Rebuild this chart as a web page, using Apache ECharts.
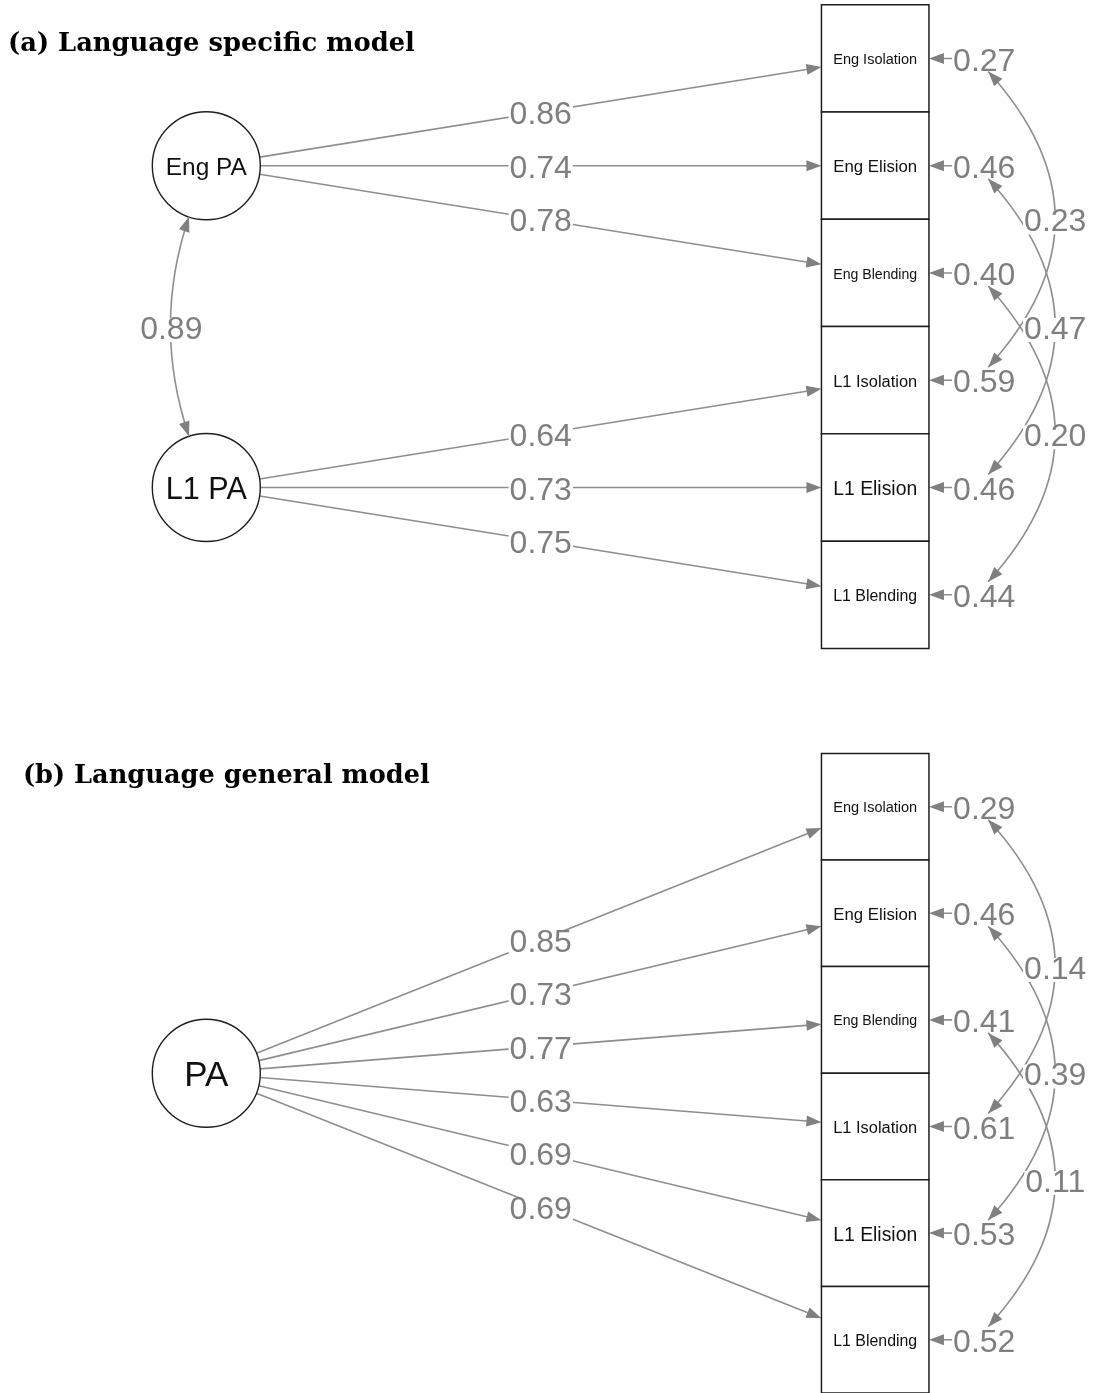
<!DOCTYPE html>
<html>
<head>
<meta charset="utf-8">
<script src="https://cdn.jsdelivr.net/npm/echarts@6/dist/echarts.min.js"></script>
<style>
  html, body { margin: 0; padding: 0; background: #fff; }
  #chart { width: 1094px; height: 1393px; }
</style>
</head>
<body>
<div id="chart"></div>
<script>
// Observed indicators, shared by both measurement models
const indicators = ['Eng Isolation', 'Eng Elision', 'Eng Blending', 'L1 Isolation', 'L1 Elision', 'L1 Blending'];
// Residual covariances link the same task across the two languages
const residPairs = [[0, 3], [1, 4], [2, 5]];

// (a) Language specific model: two correlated factors
const factorsA = ['Eng PA', 'L1 PA'];
const factorOfA = [0, 0, 0, 1, 1, 1];
const loadingsA = [0.86, 0.74, 0.78, 0.64, 0.73, 0.75];
const residualsA = [0.27, 0.46, 0.40, 0.59, 0.46, 0.44];
const factorCorA = [[0, 1, 0.89]];
const residCovA = [0.23, 0.47, 0.20];

// (b) Language general model: one factor
const factorsB = ['PA'];
const factorOfB = [0, 0, 0, 0, 0, 0];
const loadingsB = [0.85, 0.73, 0.77, 0.63, 0.69, 0.69];
const residualsB = [0.29, 0.46, 0.41, 0.61, 0.53, 0.52];
const factorCorB = [];
const residCovB = [0.14, 0.39, 0.11];

const titles = ['(a) Language specific model', '(b) Language general model'];

// ---- layout (axis units: factor column x=0, indicator column x=1, rows = indicator index)
const FACTOR_X = 0, IND_X = 1, RESID_X = 1.163;
const BOX_W = 107.5, CIRCLE_R = 54;
const RCOV_BULGE = 71, FCOV_BULGE = -35;
const HEAD_L = 15, HEAD_W = 5.5;
const LINE = '#8e8e8e', ARROW = '#808080', LABEL = '#7f7f7f', INK = '#1e1e1e';
const SANS = '"Liberation Sans", Arial, sans-serif';
const SERIF = '"DejaVu Serif", serif';
const EDGE_FS = 32;
// canvas 'middle' sits a little above the visual centre of digits/capitals
const dropFor = fs => 0.09 * fs + 0.4;

const measureCtx = document.createElement('canvas').getContext('2d');
function fitFont(text, family, weight, targetW, maxPx) {
  measureCtx.font = weight + ' 100px ' + family;
  const w = measureCtx.measureText(text).width;
  return Math.min(maxPx, 100 * targetW / w);
}

const unit = (a, b) => {
  const dx = b[0] - a[0], dy = b[1] - a[1], l = Math.hypot(dx, dy);
  return [dx / l, dy / l];
};
function arrowHead(tip, dir, z2) {
  const bx = tip[0] - dir[0] * HEAD_L, by = tip[1] - dir[1] * HEAD_L;
  const nx = -dir[1] * HEAD_W, ny = dir[0] * HEAD_W;
  return { type: 'polygon', z2, shape: { points: [tip, [bx + nx, by + ny], [bx - nx, by - ny]] },
           style: { fill: ARROW } };
}
function valueLabel(v, pt, z2) {
  return { type: 'text', z2, style: {
    text: v.toFixed(2), x: pt[0], y: pt[1] + dropFor(EDGE_FS), align: 'center', verticalAlign: 'middle',
    fontSize: EDGE_FS, fontFamily: SANS, fill: LABEL, backgroundColor: '#fff',
    padding: [0, 1], lineHeight: 24 } };
}
function nodeText(name, c, fs) {
  return { type: 'text', z2: 11, style: { text: name, x: c[0], y: c[1] + dropFor(fs), align: 'center',
    verticalAlign: 'middle', fontSize: fs, fontFamily: SANS, fill: '#111' } };
}
function seg(a, b, z2) {
  return { type: 'line', z2, shape: { x1: a[0], y1: a[1], x2: b[0], y2: b[1] },
           style: { stroke: LINE, lineWidth: 1.6 } };
}

function panelItems(factors, factorOf, loadings, residuals, factorCor, residCov) {
  const items = [];
  const factorRow = factors.map((_, k) => {
    const rows = factorOf.map((f, i) => (f === k ? i : -1)).filter(i => i >= 0);
    return rows.reduce((s, v) => s + v, 0) / rows.length;
  });
  indicators.forEach((name, i) => items.push({ kind: 'box', name, row: i, x: IND_X, y: i }));
  factors.forEach((name, k) => items.push({ kind: 'factor', name, x: FACTOR_X, y: factorRow[k] }));
  loadings.forEach((v, i) => {
    const fr = factorRow[factorOf[i]];
    items.push({ kind: 'load', value: v, fRow: fr, row: i, x: (FACTOR_X + IND_X) / 2, y: (fr + i) / 2 });
  });
  residuals.forEach((v, i) => items.push({ kind: 'resid', value: v, row: i, x: RESID_X, y: i }));
  residPairs.forEach(([a, b], j) => items.push({ kind: 'rcov', value: residCov[j], a, b, x: RESID_X, y: (a + b) / 2 }));
  factorCor.forEach(([a, b, v]) => items.push({ kind: 'fcov', value: v, a: factorRow[a], b: factorRow[b],
                                                x: FACTOR_X, y: (factorRow[a] + factorRow[b]) / 2 }));
  return items;
}

function makeRender(items) {
  return function (params, api) {
    const it = items[params.dataIndex];
    const P = (x, y) => api.coord([x, y]);
    const rowH = api.size([0, 1])[1];
    switch (it.kind) {
      case 'box': {
        const c = P(it.x, it.y);
        const fs = fitFont(it.name, SANS, 'normal', 84, 20);
        return { type: 'group', children: [
          { type: 'rect', z2: 10, shape: { x: c[0] - BOX_W / 2, y: c[1] - rowH / 2, width: BOX_W, height: rowH },
            style: { fill: '#fff', stroke: INK, lineWidth: 1.5 } },
          nodeText(it.name, c, fs)
        ] };
      }
      case 'factor': {
        const c = P(it.x, it.y);
        const fs = fitFont(it.name, SANS, 'normal', 81, 35);
        return { type: 'group', children: [
          { type: 'circle', z2: 10, shape: { cx: c[0], cy: c[1], r: CIRCLE_R },
            style: { fill: '#fff', stroke: INK, lineWidth: 1.4 } },
          nodeText(it.name, c, fs)
        ] };
      }
      case 'load': {
        const F = P(FACTOR_X, it.fRow), B = P(IND_X, it.row);
        const d = unit(F, B);
        const s = [F[0] + d[0] * CIRCLE_R, F[1] + d[1] * CIRCLE_R];
        const t = (B[0] - BOX_W / 2 - F[0]) / (B[0] - F[0]);
        const e = [F[0] + t * (B[0] - F[0]), F[1] + t * (B[1] - F[1])];
        const lineEnd = [e[0] - d[0] * HEAD_L * 0.8, e[1] - d[1] * HEAD_L * 0.8];
        return { type: 'group', children: [
          seg(s, lineEnd, 5), arrowHead(e, d, 6), valueLabel(it.value, P(it.x, it.y), 20)
        ] };
      }
      case 'resid': {
        const L = P(it.x, it.y), B = P(IND_X, it.row);
        const e = [B[0] + BOX_W / 2, B[1]];
        return { type: 'group', children: [
          seg(L, [e[0] + HEAD_L * 0.8, e[1]], 5), arrowHead(e, [-1, 0], 6), valueLabel(it.value, L, 20)
        ] };
      }
      case 'rcov': {
        const La = P(RESID_X, it.a), Lb = P(RESID_X, it.b);
        const sg = Lb[1] > La[1] ? 1 : -1;
        const Ea = [La[0] + 4, La[1] + 13 * sg], Eb = [Lb[0] + 4, Lb[1] - 13 * sg];
        const mid = P(it.x, it.y);
        const M = [mid[0] + RCOV_BULGE, mid[1]];
        const C = [2 * M[0] - (Ea[0] + Eb[0]) / 2, 2 * M[1] - (Ea[1] + Eb[1]) / 2];
        return { type: 'group', children: [
          { type: 'bezierCurve', z2: 25, shape: { x1: Ea[0], y1: Ea[1], x2: Eb[0], y2: Eb[1], cpx1: C[0], cpy1: C[1] },
            style: { stroke: LINE, lineWidth: 1.6, fill: 'none' } },
          arrowHead(Ea, unit(C, Ea), 26), arrowHead(Eb, unit(C, Eb), 26),
          valueLabel(it.value, M, 30)
        ] };
      }
      case 'fcov': {
        const Fa = P(FACTOR_X, it.a), Fb = P(FACTOR_X, it.b);
        const mid = P(it.x, it.y);
        const M = [mid[0] + FCOV_BULGE, mid[1]];
        let Ea = Fa, Eb = Fb, C;
        for (let k = 0; k < 3; k++) {
          C = [2 * M[0] - (Ea[0] + Eb[0]) / 2, 2 * M[1] - (Ea[1] + Eb[1]) / 2];
          const da = unit(Fa, C), db = unit(Fb, C);
          Ea = [Fa[0] + da[0] * CIRCLE_R, Fa[1] + da[1] * CIRCLE_R];
          Eb = [Fb[0] + db[0] * CIRCLE_R, Fb[1] + db[1] * CIRCLE_R];
        }
        return { type: 'group', children: [
          { type: 'bezierCurve', z2: 25, shape: { x1: Ea[0], y1: Ea[1], x2: Eb[0], y2: Eb[1], cpx1: C[0], cpy1: C[1] },
            style: { stroke: LINE, lineWidth: 1.6, fill: 'none' } },
          arrowHead(Ea, unit(C, Ea), 26), arrowHead(Eb, unit(C, Eb), 26),
          valueLabel(it.value, M, 30)
        ] };
      }
    }
  };
}

const itemsA = panelItems(factorsA, factorOfA, loadingsA, residualsA, factorCorA, residCovA);
const itemsB = panelItems(factorsB, factorOfB, loadingsB, residualsB, factorCorB, residCovB);

// x axis: 0 -> factor centre (206.3 px), 1 -> indicator centre (875.2 px)
const X_MIN = -0.3, X_MAX = 1.3, X_SCALE = 668.9, X_ORIGIN = 206.3;
const gridX = { left: X_ORIGIN + X_MIN * X_SCALE, width: (X_MAX - X_MIN) * X_SCALE };

const titleFs = titles.map(t => fitFont(t, SERIF, 'bold', 407, 30));

const chart = echarts.init(document.getElementById('chart'), null, { renderer: 'canvas' });
chart.setOption({
  animation: false,
  backgroundColor: '#fff',
  grid: [
    Object.assign({ top: 4.8, height: 643.6 }, gridX),
    Object.assign({ top: 753.4, height: 642 }, gridX)
  ],
  xAxis: [0, 1].map(g => ({ type: 'value', gridIndex: g, min: X_MIN, max: X_MAX, show: false })),
  yAxis: [0, 1].map(g => ({ type: 'value', gridIndex: g, min: -0.5, max: 5.5, inverse: true, show: false })),
  graphic: [
    { type: 'text', x: 8, y: 44.5, style: { text: titles[0], fontSize: titleFs[0], fontFamily: SERIF,
      fontWeight: 'bold', fill: '#000', align: 'left', verticalAlign: 'middle' } },
    { type: 'text', x: 23, y: 776, style: { text: titles[1], fontSize: titleFs[1], fontFamily: SERIF,
      fontWeight: 'bold', fill: '#000', align: 'left', verticalAlign: 'middle' } }
  ],
  series: [
    { type: 'custom', xAxisIndex: 0, yAxisIndex: 0, clip: false, silent: true,
      renderItem: makeRender(itemsA), encode: { x: 0, y: 1 }, data: itemsA.map(d => [d.x, d.y]) },
    { type: 'custom', xAxisIndex: 1, yAxisIndex: 1, clip: false, silent: true,
      renderItem: makeRender(itemsB), encode: { x: 0, y: 1 }, data: itemsB.map(d => [d.x, d.y]) }
  ]
});
</script>
</body>
</html>
